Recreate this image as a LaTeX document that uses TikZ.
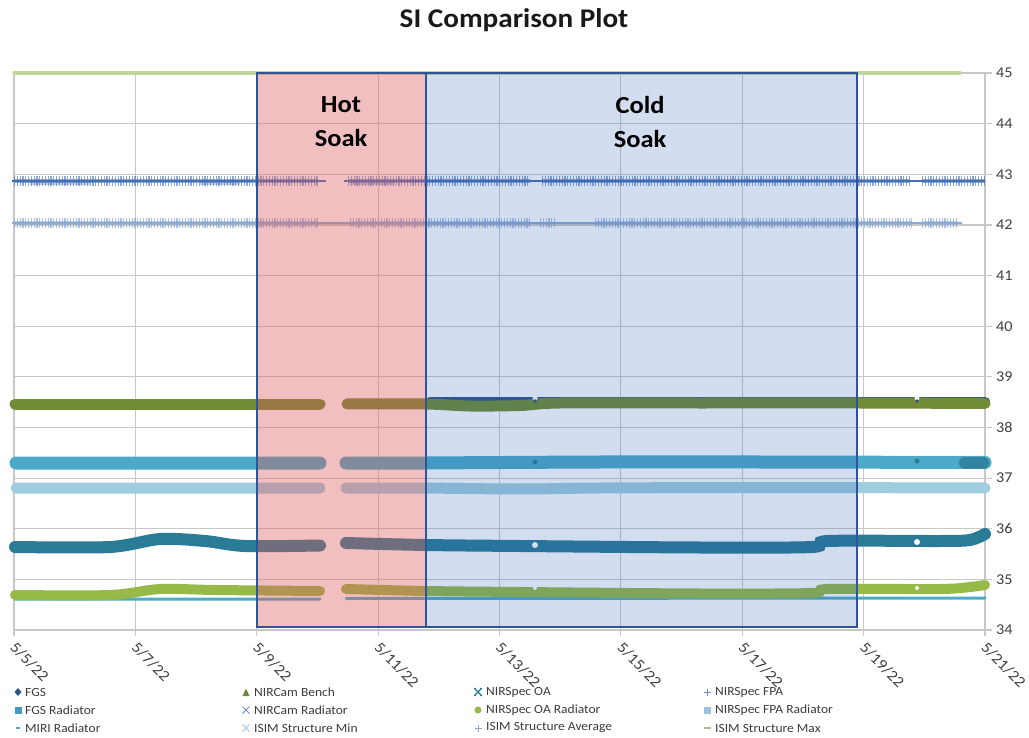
\documentclass[tikz,border=0pt]{standalone}
\usepackage{fontspec}
\setmainfont{Carlito}[FakeStretch=1.08]
\definecolor{gridgray}{RGB}{200,200,200}
\definecolor{labelgray}{RGB}{64,64,64}
\definecolor{legendgray}{RGB}{60,60,60}
\definecolor{borderblue}{RGB}{47,85,151}
\definecolor{hotfill}{RGB}{221,89,92}
\definecolor{coldfill}{RGB}{35,85,180}
\definecolor{cfgs}{RGB}{45,85,140}
\definecolor{cbench}{RGB}{113,140,52}
\definecolor{cnsoa}{RGB}{42,124,150}
\definecolor{cnsfpa}{RGB}{70,112,182}
\definecolor{cfgsrad}{RGB}{75,170,200}
\definecolor{cnsoarad}{RGB}{150,185,72}
\definecolor{cfparad}{RGB}{160,205,222}
\definecolor{cmiri}{RGB}{75,172,198}
\definecolor{cisimavg}{RGB}{140,170,215}
\definecolor{cisimmax}{RGB}{195,214,155}
\definecolor{cnircamrad}{RGB}{110,140,200}
\definecolor{cisimmin}{RGB}{170,210,230}
\begin{document}
\begin{tikzpicture}[x=1pt,y=-1pt,
  gridline/.style={draw=gridgray, line width=1.2pt},
  axlabel/.style={anchor=west, inner sep=0pt, text=labelgray, font=\fontsize{15}{16}\selectfont},
  datelabel/.style={anchor=north west, inner sep=0pt, rotate=-45, text=labelgray, font=\fontsize{15.5}{16}\selectfont},
  lgd/.style={anchor=west, inner sep=0pt, text=legendgray, font=\fontsize{12.5}{13}\selectfont},
  soaktext/.style={align=center, inner sep=0pt, font=\fontsize{24.5}{34}\selectfont\bfseries},
  band/.style={line width=#1, line cap=round},
  plusband/.style={line width=9.5pt, dash pattern=on 1.2pt off 1.6pt},
  period/.style={draw=borderblue, line width=1.5pt}
]
\path[use as bounding box, fill=white] (0,0) rectangle (1029,738);

% title
\node[font=\fontsize{27}{30}\selectfont\bfseries, text=black!90, inner sep=0pt] (title) at (514,20) {SI Comparison Plot};

% grid: one horizontal line per degree, one vertical line every two days
\foreach \v in {34,...,45}
  \draw[gridline] (14,{73+(45-\v)*50.64}) -- (992,{73+(45-\v)*50.64});
\foreach \i in {0,...,8}
  \draw[gridline] ({14+\i*121.375},73) -- ({14+\i*121.375},636);

% value labels on the right
\foreach \v in {34,...,45}
  \node[axlabel] (yl\v) at (996,{73+(45-\v)*50.64}) {\v};

% date labels
\foreach \dd [count=\i from 0] in {5,7,...,21}
  \node[datelabel] (date\i) at ({17+\i*121.375},641) {5/\dd/22};

% ---------------- data series ----------------
% ISIM Structure Max
\draw[cisimmax, band=3.5pt] (14,73) -- (960,73);

% NIRSpec FPA
\draw[cnsfpa, line width=1.3pt] (12,181) -- (326,181) (344,181) -- (985,181);
\draw[cnsfpa, plusband, opacity=.6] (14,181) -- (318,181) (348,181) -- (530,181) (542,181) -- (910,181) (922,181) -- (985,181);
\draw[cnsfpa, line width=3.5pt, opacity=.55] (14,181) -- (318,181) (348,181) -- (530,181) (542,181) -- (910,181) (922,181) -- (985,181);
\draw[cnsfpa, line width=3pt, opacity=.35] (30,184) -- (90,184) (200,184) -- (240,184) (350,184) -- (395,184);

% ISIM Structure Average
\draw[cisimavg, line width=1.2pt] (12,223) -- (962,223);
\draw[cisimavg, plusband, opacity=.7] (14,223) -- (318,223) (350,223) -- (530,223) (540,223) -- (555,223) (595,223) -- (912,223) (922,223) -- (958,223);
\draw[cisimavg, line width=3.5pt, opacity=.55] (14,223) -- (318,223) (350,223) -- (530,223) (595,223) -- (912,223) (922,223) -- (958,223);

% FGS (mostly hidden under the NIRCam Bench trace)
\draw[cfgs, band=10pt] (430,401.5) -- (985,401.5);

% NIRCam Bench
\draw[cbench, band=11pt] plot[smooth] coordinates {(15,404) (150,404) (320,404)};
\draw[cbench, band=11pt] plot[smooth] coordinates {(347,404) (426,404) (470,406) (520,405.5) (560,403) (700,403) (860,403) (985,403.5)};

% FGS Radiator
\draw[cfgsrad, band=13pt] (16,463) -- (320,463) (346,463) -- (426,463) plot[smooth] coordinates {(426,463) (600,462) (760,462) (985,462.5)};

% NIRSpec FPA Radiator
\draw[cfparad, band=11pt] (16,488) -- (320,488) (346,488) -- (426,488) plot[smooth] coordinates {(426,488) (520,489) (600,488) (760,487.5) (985,488)};

% NIRSpec OA
\draw[cnsoa, band=12pt] plot[smooth] coordinates {(15,547) (110,547) (160,539) (205,541) (245,546) (320,545.5)};
\draw[cnsoa, band=12pt] plot[smooth] coordinates {(346,543) (426,545) (520,546) (700,547.5) (812,547) (828,541) (940,541) (970,540) (985,534)};

% MIRI Radiator
\draw[cmiri, band=3pt] (15,599) -- (320,599) (346,598.5) -- (985,598);

% NIRSpec OA Radiator
\draw[cnsoarad, band=10pt] plot[smooth] coordinates {(15,595) (110,595) (160,589) (215,590) (320,591)};
\draw[cnsoarad, band=10pt] plot[smooth] coordinates {(346,589) (426,591) (520,592) (700,593.5) (812,593) (828,589) (940,589) (970,587) (985,585)};

% single-sample glitches
\fill[white] (535,398) circle (2.5pt) (535,545) circle (3pt) (917,398) circle (2.5pt) (917,542) circle (3pt) (917,588) circle (2pt) (535,588) circle (2pt);
\fill[cfgs] (535,401) circle (1.8pt) (917,401) circle (1.8pt);
\fill[cnsoa] (535,462) circle (2.5pt) (917,461) circle (2.5pt);
\draw[cnsoa!80!cfgsrad, band=12pt] (965,462.5) -- (983,462.5);

% ---------------- soak periods ----------------
\fill[hotfill, fill opacity=.38] (257,73) rectangle (426,627);
\fill[coldfill, fill opacity=.2] (426,73) rectangle (857,627);
\draw[period] (257,73) rectangle (426,627);
\draw[period] (426,73) rectangle (857,627);
\node[soaktext] (hot) at (341,122) {Hot\\Soak};
\node[soaktext] (cold) at (640,122) {Cold\\Soak};

% ---------------- legend ----------------
% column 1
\fill[cfgs] (18,688) -- (21.5,692) -- (18,696) -- (14.5,692) -- cycle;
\node[lgd] (lfgs) at (25,692) {FGS};
\fill[cfgsrad!80!cfgs] (14.5,706.5) rectangle (21.5,713.5);
\node[lgd] (lfgsrad) at (25,710) {FGS Radiator};
\draw[cmiri, line width=2pt] (16,728) -- (20,728);
\node[lgd] (lmiri) at (25,728) {MIRI Radiator};
% column 2
\fill[cbench] (242.5,696) -- (246,688.5) -- (249.5,696) -- cycle;
\node[lgd] (lbench) at (254,692) {NIRCam Bench};
\draw[cnircamrad, line width=1pt] (242.5,706.5) -- (249.5,713.5) (242.5,713.5) -- (249.5,706.5);
\node[lgd] (lnircamrad) at (254,710) {NIRCam Radiator};
\draw[cisimmin, line width=1.2pt] (242.5,724.5) -- (249.5,731.5) (242.5,731.5) -- (249.5,724.5);
\node[lgd] (lisimmin) at (254,728) {ISIM Structure Min};
% column 3
\draw[cnsoa, line width=1.2pt] (474.5,688.5) -- (481.5,695.5) (474.5,695.5) -- (481.5,688.5) (474,688.5) -- (476,688.5) (480,688.5) -- (482,688.5) (474,695.5) -- (476,695.5) (480,695.5) -- (482,695.5);
\node[lgd] (lnsoa) at (486,692) {NIRSpec OA};
\fill[cnsoarad] (478,710) circle (3.5pt);
\node[lgd] (lnsoarad) at (486,710) {NIRSpec OA Radiator};
\draw[cisimavg, line width=1pt] (474.5,728) -- (481.5,728) (478,724.5) -- (478,731.5);
\node[lgd] (lisimavg) at (486,728) {ISIM Structure Average};
% column 4
\draw[cnsfpa!80, line width=1pt] (704,692) -- (711,692) (707.5,688.5) -- (707.5,695.5);
\node[lgd] (lnsfpa) at (715,692) {NIRSpec FPA};
\fill[cfparad!90!cnsfpa] (704,706.5) rectangle (711,713.5);
\node[lgd] (lfparad) at (715,710) {NIRSpec FPA Radiator};
\draw[cisimmax!90!black, line width=1.5pt] (704,728) -- (711,728);
\node[lgd] (lisimmax) at (715,728) {ISIM Structure Max};
\end{tikzpicture}
\end{document}
